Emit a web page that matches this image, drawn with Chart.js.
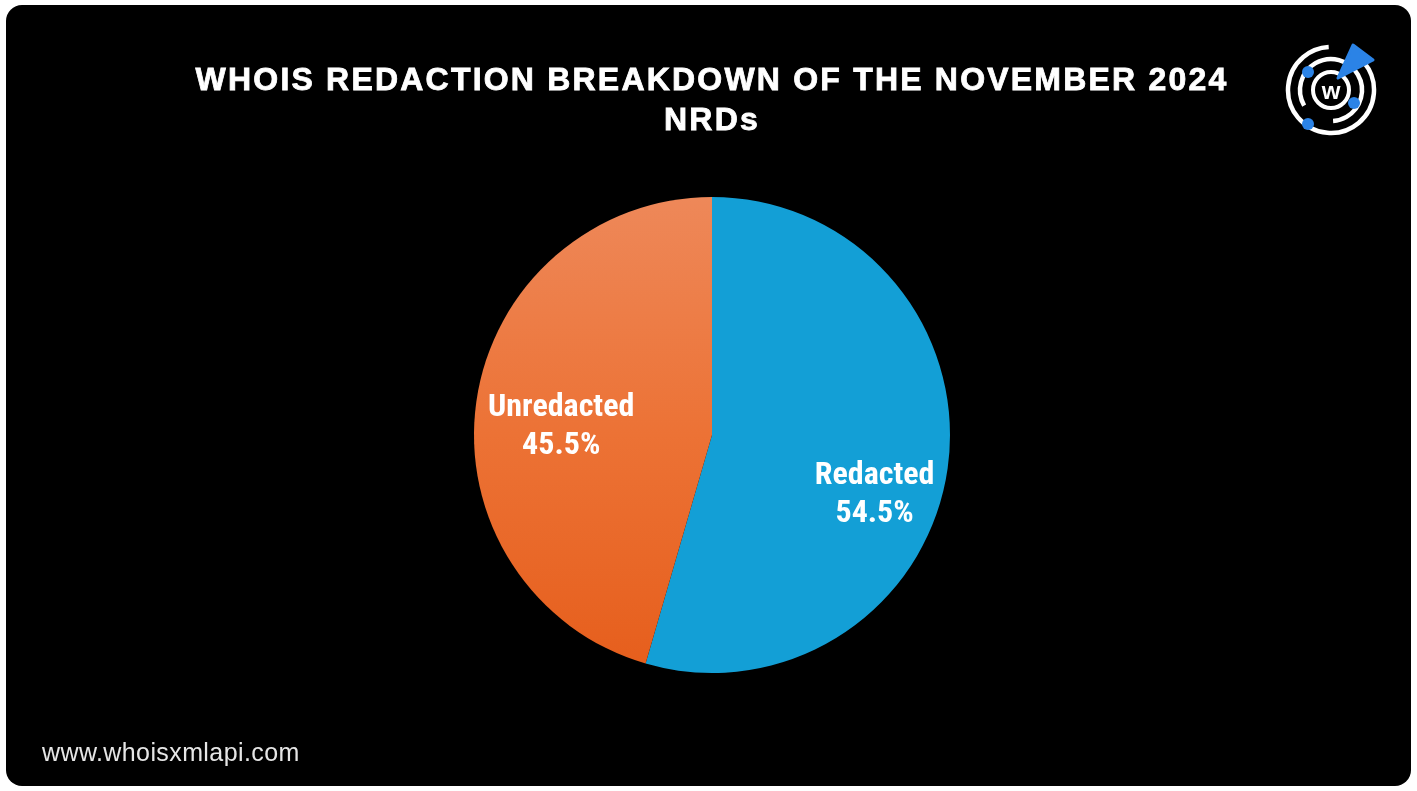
<!DOCTYPE html>
<html><head><meta charset="utf-8">
<script src="https://cdn.jsdelivr.net/npm/chart.js@4.4.1/dist/chart.umd.min.js"></script>
<style>
html,body{margin:0;padding:0;background:#fff;width:1417px;height:791px;overflow:hidden;}
#card{position:absolute;left:6px;top:5px;width:1405px;height:781px;background:#000;border-radius:16px;overflow:hidden;}
#c{position:absolute;left:0;top:0;}
#logo{position:absolute;left:1283px;top:40px;}
</style></head><body>
<div id="card"><canvas id="c" width="1405" height="781"></canvas></div>
<svg id="logo" width="100" height="96" viewBox="0 0 100 96">
  <circle cx="48" cy="50" r="43" fill="none" stroke="#fff" stroke-width="4.5" stroke-dasharray="230 40" transform="rotate(-40 48 50)"/>
  <circle cx="48" cy="50" r="31" fill="none" stroke="#fff" stroke-width="4.5" stroke-dasharray="160 35" transform="rotate(150 48 50)"/>
  <circle cx="48" cy="50" r="18" fill="none" stroke="#fff" stroke-width="4"/>
  <text x="48" y="59" text-anchor="middle" font-family="Liberation Sans, Arial" font-weight="bold" font-size="24" fill="#fff">w</text>
  <path d="M55 38 L70 5 L90 20 Z" fill="#2b83e6" stroke="#2b83e6" stroke-width="3" stroke-linejoin="round"/>
  <circle cx="25" cy="32" r="6" fill="#2b83e6"/>
  <circle cx="71" cy="63" r="6" fill="#2b83e6"/>
  <circle cx="25" cy="84" r="6" fill="#2b83e6"/>
</svg>
<script>
const titleLines = ["WHOIS REDACTION BREAKDOWN OF THE NOVEMBER 2024", "NRDs"];
const categories = ["Redacted", "Unredacted"];
const values = [54.5, 45.5];
const footerText = "www.whoisxmlapi.com";

const ox = 6, oy = 5; // card offset
const ctxEl = document.getElementById('c');

function sliceColor(context){
  if (context.dataIndex === 0) return '#139fd6';
  const chart = context.chart;
  const a = chart.chartArea;
  if(!a) return '#ec6f2e';
  const g = chart.ctx.createLinearGradient(0, a.top, 0, a.bottom);
  g.addColorStop(0, '#ee8859');
  g.addColorStop(0.5, '#ec7235');
  g.addColorStop(1, '#e65e1c');
  return g;
}

const textPlugin = {
  id:'texts',
  afterDraw(chart){
    const ctx = chart.ctx;
    ctx.save();
    ctx.fillStyle = '#fff';
    ctx.strokeStyle = '#fff';
    ctx.lineWidth = 0.8;
    ctx.textAlign = 'center';
    ctx.textBaseline = 'alphabetic';
    ctx.font = 'bold 32px "Liberation Sans", Arial, sans-serif';
    ctx.letterSpacing = '2.2px';
    ctx.fillText(titleLines[0], 712 - ox, 90 - oy);
    ctx.strokeText(titleLines[0], 712 - ox, 90 - oy);
    ctx.fillText(titleLines[1], 712 - ox, 130 - oy);
    ctx.strokeText(titleLines[1], 712 - ox, 130 - oy);
    ctx.letterSpacing = '0.4px';
    ctx.textAlign = 'left';
    ctx.fillStyle = '#e6e6e6';
    ctx.font = '25px "Liberation Sans", Arial, sans-serif';
    ctx.fillText(footerText, 42 - ox, 761 - oy);
    ctx.letterSpacing = '0px';
    // slice labels
    const meta = chart.getDatasetMeta(0);
    const offs = [[0.69, 30], [0.64, 6]];
    meta.data.forEach((arc, i) => {
      const p = arc.getProps(['x','y','startAngle','endAngle','outerRadius']);
      const mid = (p.startAngle + p.endAngle)/2;
      const r = p.outerRadius * offs[i][0];
      const x = p.x + Math.cos(mid)*r;
      const y = p.y + Math.sin(mid)*r + offs[i][1];
      ctx.fillStyle = '#fff';
      ctx.textAlign = 'center';
      ctx.font = 'bold 32px "Liberation Sans Narrow", "Roboto Condensed", "Arial Narrow", sans-serif';
      ctx.fillText(categories[i], x, y - 4);
      ctx.fillText(values[i].toFixed(1) + '%', x, y + 34);
    });
    ctx.restore();
  }
};

new Chart(ctxEl, {
  type:'pie',
  data:{labels:categories, datasets:[{data:values, backgroundColor:sliceColor, borderWidth:0}]},
  options:{
    responsive:false, animation:false, events:[],
    layout:{padding:{top:197-oy, bottom:791-673-(791-786), left:307-ox, right:300-(1417-1411)}},
    plugins:{legend:{display:false}, tooltip:{enabled:false}, title:{display:false}}
  },
  plugins:[textPlugin]
});
</script>
</body></html>
